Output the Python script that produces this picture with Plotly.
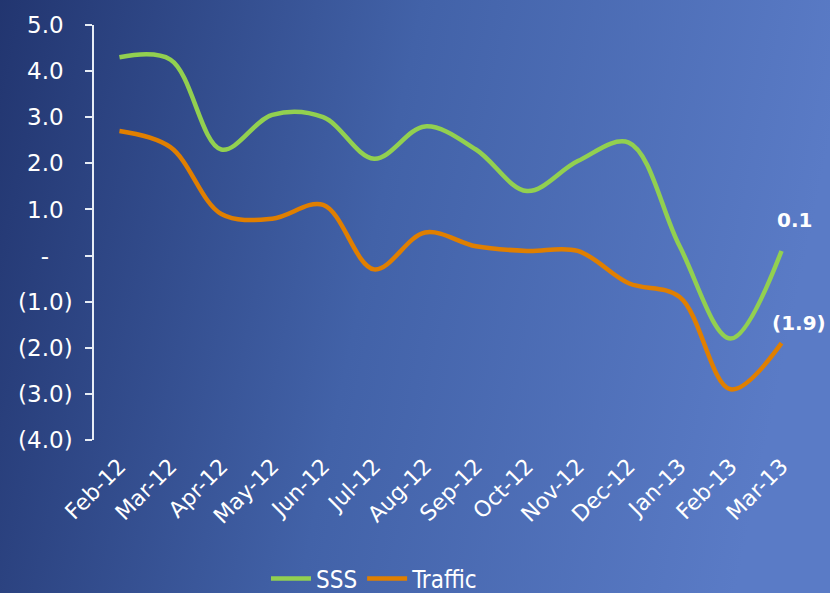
import base64
import plotly.graph_objects as go

# ---- data ----
months = ["Feb-12", "Mar-12", "Apr-12", "May-12", "Jun-12", "Jul-12", "Aug-12",
          "Sep-12", "Oct-12", "Nov-12", "Dec-12", "Jan-13", "Feb-13", "Mar-13"]
sss = [4.3, 4.25, 2.3, 3.05, 3.0, 2.1, 2.8, 2.3, 1.4, 2.05, 2.45, 0.2, -1.8, 0.1]
traffic = [2.7, 2.35, 0.9, 0.8, 1.1, -0.3, 0.5, 0.2, 0.1, 0.1, -0.6, -0.9, -2.9, -1.9]
y_ticks = [-4, -3, -2, -1, 0, 1, 2, 3, 4, 5]


def fmt(v):
    if abs(v) < 1e-9:
        return "-"
    if v < 0:
        return f"({abs(v):.1f})"
    return f"{v:.1f}"


HID = "<span style='color:rgba(0,0,0,0)'>{}</span>"


def fmt_axis(v):
    # accounting-style alignment: invisible padding like the closing parenthesis
    if abs(v) < 1e-9:
        return "-" + HID.format("0)")
    if v < 0:
        return fmt(v)
    return fmt(v) + HID.format(")")


W, H = 830, 593
L, R, T, B = 94, 23, 20, 153
PW, PH = W - L - R, H - T - B

FONT = "DejaVu Sans, Verdana, sans-serif"
idx = list(range(len(months)))

fig = go.Figure()
fig.add_trace(go.Scatter(x=idx, y=sss, name="SSS", mode="lines",
                         line=dict(color="#92D050", width=4.5, shape="spline", smoothing=1.0),
                         hoverinfo="skip"))
fig.add_trace(go.Scatter(x=idx, y=traffic, name="Traffic", mode="lines",
                         line=dict(color="#E07F00", width=4.5, shape="spline", smoothing=1.0),
                         hoverinfo="skip"))

# end-point data labels
fig.add_annotation(x=idx[-1], y=sss[-1], text=f"<b>{fmt(sss[-1])}</b>", showarrow=False,
                   xshift=13, yshift=31, font=dict(color="white", size=20, family=FONT))
fig.add_annotation(x=idx[-1], y=traffic[-1], text=f"<b>{fmt(traffic[-1])}</b>", showarrow=False,
                   xshift=17, yshift=20, font=dict(color="white", size=20, family=FONT))

# gradient background as inline svg (slightly oversized to cover the page edges)
PADX, PADY = 12, 12
GW, GH = W + 2 * PADX, H + 2 * PADY
svg = f'''<svg xmlns="http://www.w3.org/2000/svg" width="{GW}" height="{GH}" viewBox="0 0 {GW} {GH}" preserveAspectRatio="none">
<defs><linearGradient id="g" x1="0" y1="0" x2="1" y2="0.15">
<stop offset="0" stop-color="#21346E"/>
<stop offset="0.5" stop-color="#4262A8"/>
<stop offset="1" stop-color="#5A7BC6"/>
</linearGradient></defs>
<rect width="{GW}" height="{GH}" fill="url(#g)"/></svg>'''
src = "data:image/svg+xml;base64," + base64.b64encode(svg.encode()).decode()
fig.add_layout_image(dict(source=src, xref="paper", yref="paper",
                          x=-(L + PADX) / PW, y=1 + (T + PADY) / PH,
                          sizex=GW / PW, sizey=GH / PH,
                          sizing="stretch", xanchor="left", yanchor="top", layer="below"))

n = len(months)
fig.update_layout(
    width=W, height=H,
    margin=dict(l=L, r=R, t=T, b=B, pad=0),
    paper_bgcolor="#2E4585",
    plot_bgcolor="rgba(0,0,0,0)",
    font=dict(family=FONT, color="white", size=21),
    showlegend=True,
    legend=dict(orientation="h", x=266 / W, xanchor="left", xref="container",
                y=1 - 579 / H, yanchor="middle", yref="container",
                font=dict(size=24, family="DejaVu Sans Condensed, DejaVu Sans, sans-serif", color="white"),
                bgcolor="rgba(0,0,0,0)", itemwidth=40, tracegroupgap=0),
    xaxis=dict(range=[-0.5, n - 0.5], tickmode="array", tickvals=idx, ticktext=months,
               tickangle=-45, showline=False, ticks="", showgrid=False, zeroline=False,
               ticklabelstandoff=8,
               tickfont=dict(size=22, color="white", family=FONT), fixedrange=True),
    xaxis2=dict(overlaying="x", anchor="free", position=4 / 9, side="bottom",
                range=[-0.5, n - 0.5], tickmode="array",
                tickvals=[i - 0.5 for i in range(n + 1)], showticklabels=False,
                showline=True, linecolor="#E6ECF5", linewidth=1.5,
                ticks="outside", ticklen=6, tickcolor="#E6ECF5", tickwidth=1.5,
                showgrid=False, zeroline=False, fixedrange=True),
    yaxis=dict(range=[-4, 5], tickmode="array", tickvals=y_ticks,
               ticktext=[fmt_axis(v) for v in y_ticks], showgrid=False, zeroline=False,
               showline=True, linecolor="#E6ECF5", linewidth=1.5,
               ticks="outside", ticklen=7, tickcolor="#E6ECF5", tickwidth=1.5,
               ticklabelstandoff=8,
               tickfont=dict(size=23, color="white", family=FONT), fixedrange=True),
)

fig.write_html("out.html")
